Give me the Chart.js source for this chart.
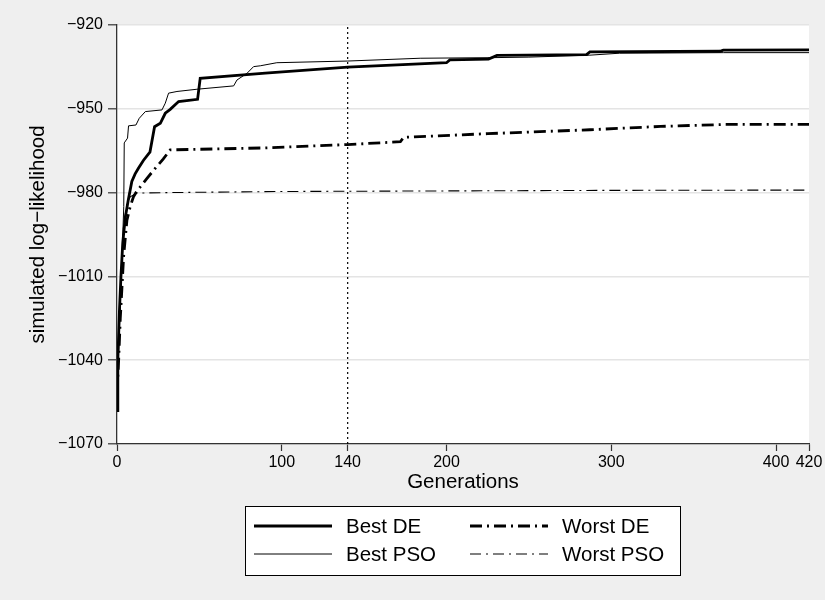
<!DOCTYPE html>
<html>
<head>
<meta charset="utf-8">
<title>Simulated log-likelihood by generation</title>
<script src="https://cdn.jsdelivr.net/npm/chart.js@4.4.0/dist/chart.umd.min.js"></script>
<style>
  html, body { margin: 0; padding: 0; background: #efefef; }
  canvas { display: block; }
</style>
</head>
<body>
<canvas id="llChart" width="825" height="600"></canvas>
<script>
// values (generation, simulated log-likelihood)
const bestDeGen = [0, 0.5, 1.5, 2.4, 3.5, 5, 6.9, 9, 11, 13, 16, 19, 20, 22.8, 26.3, 29.3, 32.3, 37.4, 48.9, 50.5, 90, 140, 200, 202, 225.5, 230.6, 285, 287, 366, 368, 420];
const bestDeLL  = [-1058, -1040, -1022, -1010, -998, -989, -982.5, -976, -973.3, -971.3, -968.5, -966.2, -965.5, -956.4, -955.2, -951.6, -950.2, -947.4, -946.6, -939.1, -937.2, -935.1, -933.5, -932.5, -932.2, -930.9, -930.6, -929.6, -929.4, -929.0, -928.9];

const bestPsoGen = [0, 1, 2, 3, 4.1, 4.4, 6.4, 7, 11.5, 13.5, 17.2, 27.3, 29.3, 31.3, 36.4, 48.5, 70.8, 72.8, 78.9, 82.9, 87, 97, 140, 184, 226, 250, 287, 305, 368, 420];
const bestPsoLL  = [-1050, -1036, -1020, -1004, -985, -962.2, -960.5, -956.1, -955.8, -953.4, -951, -950.4, -948, -944.4, -943.8, -943, -941.8, -939.7, -937.3, -934.9, -934.6, -933.5, -932.9, -931.9, -931.7, -931.5, -930.8, -930.1, -929.9, -929.9];

const worstDeGen = [0, 1, 2, 4, 6, 8, 10, 12, 14.2, 18.2, 23.2, 28, 32.3, 90, 140, 172, 174, 225, 287, 330, 369, 420];
const worstDeLL  = [-1052, -1040, -1025, -1003, -990, -985, -981.5, -979.5, -977.9, -974.9, -971.3, -968, -964.7, -964.0, -962.8, -961.8, -960.2, -958.9, -957.5, -956.3, -955.6, -955.6];

const worstPsoGen = [0, 1, 2, 3, 4, 6, 8, 12, 30, 100, 200, 300, 420];
const worstPsoLL  = [-1048, -1035, -1018, -1003, -992, -984, -981.5, -980.2, -980, -979.6, -979.4, -979.2, -979.1];

const seriesNames = ['Best DE', 'Worst DE', 'Best PSO', 'Worst PSO'];
const xTicks = [0, 100, 140, 200, 300, 400, 420];
const yTicks = [-1070, -1040, -1010, -980, -950, -920];
const markGen = 140;

const toPoints = (gens, vals) => gens.map((g, i) => ({ x: g, y: vals[i] }));
const minus = v => String(v).replace('-', '\u2212');
const FONT = "'Liberation Sans', Arial, sans-serif";

// white plot region on the grey page
const plotBackground = {
  id: 'plotBackground',
  beforeDraw(chart) {
    const { ctx, chartArea: a } = chart;
    ctx.save();
    ctx.fillStyle = '#efefef';
    ctx.fillRect(0, 0, chart.width, chart.height);
    ctx.fillStyle = '#ffffff';
    ctx.fillRect(a.left, a.top, a.right - a.left, a.bottom - a.top);
    ctx.restore();
  }
};

// two-column boxed legend under the axis title
const boxedLegend = {
  id: 'boxedLegend',
  afterDraw(chart) {
    const ctx = chart.ctx;
    const slots = [
      { ds: 0, x: 254, y: 526 }, { ds: 1, x: 470, y: 526 },
      { ds: 2, x: 254, y: 554 }, { ds: 3, x: 470, y: 554 }
    ];
    ctx.save();
    ctx.fillStyle = '#ffffff';
    ctx.fillRect(245, 506, 435, 69);
    ctx.strokeStyle = '#000000';
    ctx.lineWidth = 1;
    ctx.strokeRect(245.5, 506.5, 435, 69);
    ctx.font = '20.5px ' + FONT;
    ctx.textBaseline = 'middle';
    slots.forEach(s => {
      const ds = chart.data.datasets[s.ds];
      ctx.beginPath();
      ctx.setLineDash(ds.borderDash || []);
      ctx.lineWidth = ds.borderWidth;
      ctx.strokeStyle = ds.borderColor;
      ctx.moveTo(s.x, s.y);
      ctx.lineTo(s.x + 78, s.y);
      ctx.stroke();
      ctx.setLineDash([]);
      ctx.fillStyle = '#000000';
      ctx.fillText(ds.label, s.x + 92, s.y + 1.5);
    });
    ctx.restore();
  }
};

new Chart(document.getElementById('llChart'), {
  type: 'line',
  data: {
    datasets: [
      { label: seriesNames[0], data: toPoints(bestDeGen, bestDeLL), borderColor: '#000000', borderWidth: 2.8, order: 1 },
      { label: seriesNames[1], data: toPoints(worstDeGen, worstDeLL), borderColor: '#000000', borderWidth: 2.8, borderDash: [12, 5, 2, 5], order: 3 },
      { label: seriesNames[2], data: toPoints(bestPsoGen, bestPsoLL), borderColor: '#000000', borderWidth: 1, order: 2 },
      { label: seriesNames[3], data: toPoints(worstPsoGen, worstPsoLL), borderColor: '#000000', borderWidth: 1.1, borderDash: [11, 5, 2, 5], order: 4 },
      { label: '', data: [{ x: markGen, y: yTicks[0] }, { x: markGen, y: yTicks[yTicks.length - 1] }], borderColor: '#000000', borderWidth: 1.2, borderDash: [2, 3], order: 5 }
    ]
  },
  options: {
    responsive: false,
    animation: false,
    events: [],
    elements: { point: { radius: 0 }, line: { tension: 0, fill: false } },
    layout: { padding: { left: 0, top: 25, right: 16, bottom: 96 } },
    plugins: { legend: { display: false }, tooltip: { enabled: false } },
    scales: {
      x: {
        type: 'linear',
        min: 0,
        max: 420,
        afterBuildTicks: s => { s.ticks = xTicks.map(v => ({ value: v })); },
        afterFit: s => { s.height = 60; },
        grid: { drawOnChartArea: false, drawTicks: true, tickLength: 7, tickColor: '#333333', tickWidth: 1.2 },
        border: { color: '#333333', width: 1.3 },
        ticks: { color: '#000000', font: { family: FONT, size: 16 }, padding: 2, maxRotation: 0, autoSkip: false, callback: v => String(v) },
        title: { display: true, text: 'Generations', color: '#000000', font: { family: FONT, size: 20.5 }, padding: { top: 0, bottom: 9 } }
      },
      y: {
        type: 'linear',
        min: -1070,
        max: -920,
        afterBuildTicks: s => { s.ticks = yTicks.map(v => ({ value: v })); },
        afterFit: s => { s.width = 117; },
        grid: { color: '#e4e4e4', lineWidth: 1.6, drawTicks: true, tickLength: 9, tickColor: '#333333', tickWidth: 1.2 },
        border: { color: '#333333', width: 1.3 },
        ticks: { color: '#000000', font: { family: FONT, size: 16 }, padding: 5, callback: v => minus(v) },
        title: { display: true, text: 'simulated log\u2212likelihood', color: '#000000', font: { family: FONT, size: 20.5 }, padding: { top: 26, bottom: 0 } }
      }
    }
  },
  plugins: [plotBackground, boxedLegend]
});
</script>
</body>
</html>
